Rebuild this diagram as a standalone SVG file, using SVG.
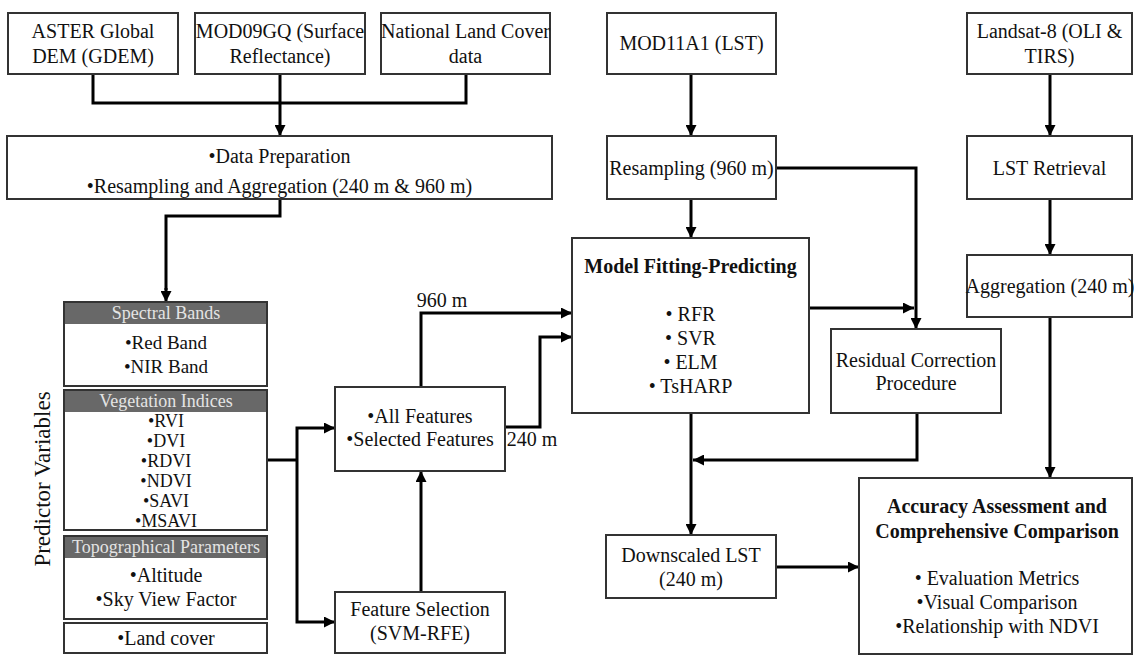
<svg xmlns="http://www.w3.org/2000/svg" width="1134" height="656" viewBox="0 0 1134 656">
<defs>
<style>
.box{fill:#fff;stroke:#333;stroke-width:2}
.hdr{fill:#686868;stroke:none}
text{font-family:'Liberation Serif','Times New Roman',Times,serif}
.t{font-size:20px;fill:#111;text-anchor:middle}
.s{font-size:18px}
.h{font-size:18px;fill:#e4e4e4}
.b{font-weight:bold;font-size:20px}
.c{fill:none;stroke:#000;stroke-width:3}
.a{marker-end:url(#arr)}
</style>
<marker id="arr" markerUnits="userSpaceOnUse" markerWidth="12" markerHeight="11" refX="11" refY="5.5" orient="auto">
<path d="M0,0 L11,5.5 L0,11 Z" fill="#000"/>
</marker>
</defs>
<rect width="1134" height="656" fill="#fff"/>

<g id="connectors">
<path class="c" d="M93,74 V103 H466 V74"/>
<path class="c a" d="M280,74 V136"/>
<path class="c" d="M280,199 V216 H166 V290"/>
<path class="c a" d="M166,288 V302"/>
<path class="c a" d="M691,74 V136"/>
<path class="c a" d="M691,199 V238"/>
<path class="c a" d="M1050,74 V136"/>
<path class="c a" d="M1050,199 V255"/>
<path class="c a" d="M1050,317 V478"/>
<path class="c a" d="M776,168 H916 V329"/>
<path class="c a" d="M809,308 H914"/>
<path class="c a" d="M917,413 V460 H693"/>
<path class="c a" d="M691,413 V535"/>
<path class="c a" d="M776,567 H859"/>
<path class="c" d="M267,460 H297"/>
<path class="c a" d="M297,460 V428 H335"/>
<path class="c a" d="M297,460 V622 H335"/>
<path class="c a" d="M421,592 V471"/>
<path class="c a" d="M421,387 V313 H572"/>
<path class="c a" d="M505,427 H540 V337 H572"/>
</g>

<g font-family="Liberation Serif, Times New Roman, serif">
<g id="aster">
<rect class="box" x="8" y="13" width="170" height="61"/>
<text class="t" x="93" y="38">ASTER Global</text>
<text class="t" x="93" y="63">DEM (GDEM)</text>
</g>
<g id="mod09gq">
<rect class="box" x="195" y="13" width="170" height="61"/>
<text class="t" x="280" y="38">MOD09GQ (Surface</text>
<text class="t" x="280" y="63">Reflectance)</text>
</g>
<g id="nlcd">
<rect class="box" x="381" y="13" width="169" height="61"/>
<text class="t" x="465.5" y="38">National Land Cover</text>
<text class="t" x="465.5" y="63">data</text>
</g>
<g id="mod11a1">
<rect class="box" x="607" y="13" width="169" height="61"/>
<text class="t" x="691.5" y="50">MOD11A1 (LST)</text>
</g>
<g id="landsat">
<rect class="box" x="967" y="13" width="165" height="61"/>
<text class="t" x="1049.5" y="38">Landsat-8 (OLI &amp;</text>
<text class="t" x="1049.5" y="63">TIRS)</text>
</g>

<g id="dataprep">
<rect class="box" x="7" y="136" width="545" height="63"/>
<text class="t" x="279.5" y="163">•Data Preparation</text>
<text class="t" x="279.5" y="193">•Resampling and Aggregation (240 m &amp; 960 m)</text>
</g>
<g id="resampling">
<rect class="box" x="607" y="136" width="169" height="63"/>
<text class="t" x="691.5" y="175">Resampling (960 m)</text>
</g>
<g id="lstretrieval">
<rect class="box" x="967" y="136" width="165" height="63"/>
<text class="t" x="1049.5" y="175">LST Retrieval</text>
</g>
<g id="aggregation">
<rect class="box" x="967" y="255" width="165" height="62"/>
<text class="t" x="1050" y="293">Aggregation (240 m)</text>
</g>

<g id="predictor-label">
<text class="t" transform="translate(50,479) rotate(-90)" style="font-size:23px">Predictor Variables</text>
</g>
<g id="spectral">
<rect class="box" x="64" y="302" width="203" height="84"/>
<rect class="hdr" x="65" y="303" width="201" height="21"/>
<text class="t h" x="166" y="319">Spectral Bands</text>
<text class="t" x="166" y="349" style="font-size:19px">•Red Band</text>
<text class="t" x="166" y="373" style="font-size:19px">•NIR Band</text>
</g>
<g id="vegetation">
<rect class="box" x="64" y="390" width="203" height="140"/>
<rect class="hdr" x="65" y="391" width="201" height="21"/>
<text class="t h" x="166" y="407">Vegetation Indices</text>
<text class="t s" x="166" y="427">•RVI</text>
<text class="t s" x="166" y="447">•DVI</text>
<text class="t s" x="166" y="467">•RDVI</text>
<text class="t s" x="166" y="487">•NDVI</text>
<text class="t s" x="166" y="507">•SAVI</text>
<text class="t s" x="166" y="527">•MSAVI</text>
</g>
<g id="topographical">
<rect class="box" x="64" y="536" width="203" height="83"/>
<rect class="hdr" x="65" y="537" width="201" height="21"/>
<text class="t h" x="166" y="553">Topographical Parameters</text>
<text class="t" x="166" y="582">•Altitude</text>
<text class="t" x="166" y="606">•Sky View Factor</text>
</g>
<g id="landcover">
<rect class="box" x="64" y="623" width="203" height="30"/>
<text class="t" x="166" y="645">•Land cover</text>
</g>

<g id="features">
<rect class="box" x="335" y="387" width="170" height="84"/>
<text class="t" x="420" y="423">•All Features</text>
<text class="t" x="420" y="446">•Selected Features</text>
</g>
<g id="featureselection">
<rect class="box" x="335" y="592" width="170" height="61"/>
<text class="t" x="420" y="616">Feature Selection</text>
<text class="t" x="420" y="640">(SVM-RFE)</text>
</g>
<g id="labels">
<text class="t" x="442" y="307">960 m</text>
<text class="t" x="532" y="446">240 m</text>
</g>

<g id="model">
<rect class="box" x="572" y="238" width="237" height="175"/>
<text class="t b" x="690.5" y="273">Model Fitting-Predicting</text>
<text class="t" x="690.5" y="321">• RFR</text>
<text class="t" x="690.5" y="345">• SVR</text>
<text class="t" x="690.5" y="369">• ELM</text>
<text class="t" x="690.5" y="393">• TsHARP</text>
</g>
<g id="residual">
<rect class="box" x="831" y="329" width="170" height="84"/>
<text class="t" x="916" y="367">Residual Correction</text>
<text class="t" x="916" y="390">Procedure</text>
</g>
<g id="downscaled">
<rect class="box" x="606" y="535" width="170" height="63"/>
<text class="t" x="691" y="562">Downscaled LST</text>
<text class="t" x="691" y="586">(240 m)</text>
</g>
<g id="accuracy">
<rect class="box" x="859" y="478" width="273" height="176"/>
<text class="t b" x="997" y="513">Accuracy Assessment and</text>
<text class="t b" x="997" y="538">Comprehensive Comparison</text>
<text class="t" x="997" y="585">• Evaluation Metrics</text>
<text class="t" x="997" y="609">•Visual Comparison</text>
<text class="t" x="997" y="633">•Relationship with NDVI</text>
</g>
</g>
</svg>
